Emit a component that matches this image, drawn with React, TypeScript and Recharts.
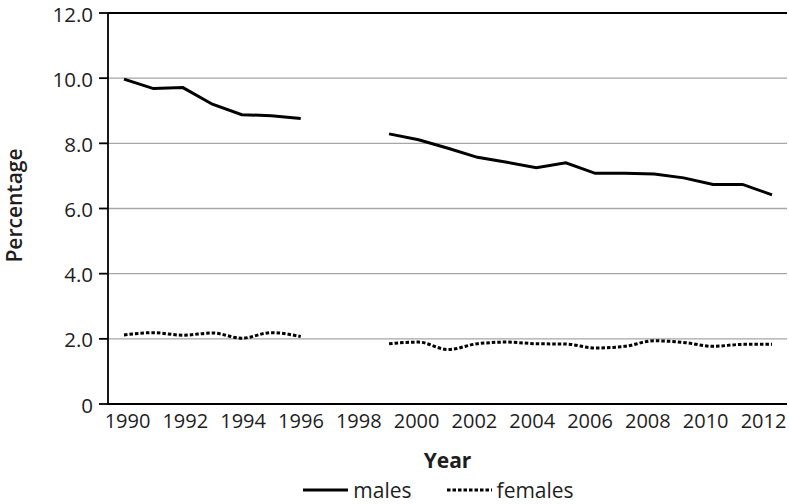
import React from 'react';
import {
  LineChart,
  Line,
  XAxis,
  YAxis,
  CartesianGrid,
  Legend,
  ReferenceLine,
} from 'recharts';

const years: string[] = [
  '1990', '1991', '1992', '1993', '1994', '1995', '1996', '1997', '1998', '1999', '2000',
  '2001', '2002', '2003', '2004', '2005', '2006', '2007', '2008', '2009', '2010', '2011', '2012',
];

const males: (number | null)[] = [
  9.97, 9.68, 9.71, 9.2, 8.88, 8.85, 8.76, null, null, 8.29, 8.11,
  7.85, 7.57, 7.42, 7.25, 7.4, 7.08, 7.08, 7.06, 6.94, 6.74, 6.74, 6.42,
];

const females: (number | null)[] = [
  2.12, 2.19, 2.11, 2.18, 2.02, 2.19, 2.07, null, null, 1.85, 1.9,
  1.67, 1.85, 1.9, 1.85, 1.84, 1.72, 1.77, 1.94, 1.89, 1.77, 1.83, 1.83,
];

const yTicks: number[] = [0, 2, 4, 6, 8, 10, 12];
const yTickLabels: string[] = ['0', '2.0', '4.0', '6.0', '8.0', '10.0', '12.0'];

const seriesNames: string[] = ['males', 'females'];
const seriesDash: string[] = ['', '3.5 2'];

const data = years.map((y, i) => ({ year: y, males: males[i], females: females[i] }));

const FONT = '"Open Sans", "Noto Sans", sans-serif';
const TEXT = '#1e1e1e';

// category labels in the reference sit on a slightly tighter pitch than the points
const XTick = (props: any) => {
  const { x, y, payload } = props;
  const i = years.indexOf(String(payload.value));
  const last = years.length - 1;
  const shift = 3.5 - 12 * (i / last);
  return (
    <text
      x={x + shift}
      y={y}
      dy={15}
      textAnchor="middle"
      fontFamily={FONT}
      fontSize={20}
      fill={TEXT}
    >
      {payload.value}
    </text>
  );
};

const YTick = (props: any) => {
  const { x, y, payload } = props;
  const label = yTickLabels[yTicks.indexOf(Number(payload.value))] ?? String(payload.value);
  return (
    <text
      x={x}
      y={y}
      dy={8.5}
      textAnchor="end"
      fontFamily={FONT}
      fontSize={20.5}
      fill={TEXT}
    >
      {label}
    </text>
  );
};

const renderLegend = () => (
  <div
    style={{
      display: 'flex',
      justifyContent: 'center',
      alignItems: 'center',
      height: 22,
      paddingTop: 5,
      paddingBottom: 3,
      paddingRight: 18,
      fontFamily: FONT,
      fontSize: 21,
      color: TEXT,
    }}
  >
    {seriesNames.map((name, i) => (
      <div key={name} style={{ display: 'flex', alignItems: 'center', marginRight: i === 0 ? 35 : 0 }}>
        <svg width={45} height={6} style={{ marginRight: 5 }}>
          <line
            x1={0}
            y1={3}
            x2={45}
            y2={3}
            stroke="#000"
            strokeWidth={3}
            strokeDasharray={seriesDash[i] || undefined}
          />
        </svg>
        <span style={{ lineHeight: '22px' }}>{name}</span>
      </div>
    ))}
  </div>
);

export default function App() {
  return (
    <div style={{ position: 'absolute', left: 0, top: 0, background: '#fff' }}>
      <LineChart
        width={789}
        height={504}
        data={data}
        margin={{ top: 13, right: 2, bottom: 0, left: 0 }}
      >
        <CartesianGrid vertical={false} stroke="#a6a6a6" strokeWidth={1.3} />
        <XAxis
          dataKey="year"
          interval={1}
          padding={{ left: 16, right: 15 }}
          height={70}
          tickSize={0}
          tickMargin={9}
          tickLine={false}
          axisLine={{ stroke: '#000', strokeWidth: 1.8 }}
          tick={<XTick />}
          label={{
            value: 'Year',
            position: 'insideBottom',
            offset: 6,
            style: { fontFamily: FONT, fontSize: 21, fontWeight: 700, fill: TEXT },
          }}
        />
        <YAxis
          domain={[0, 12]}
          ticks={yTicks}
          width={108}
          interval={0}
          tickSize={9}
          tickMargin={6}
          tickLine={{ stroke: '#000', strokeWidth: 1.8 }}
          axisLine={{ stroke: '#000', strokeWidth: 1.8 }}
          tick={<YTick />}
          label={{
            value: 'Percentage',
            angle: -90,
            position: 'center',
            dx: -39,
            dy: -3,
            style: { fontFamily: FONT, fontSize: 21, fontWeight: 600, fill: TEXT, textAnchor: 'middle' },
          }}
        />
        <YAxis
          yAxisId="right"
          orientation="right"
          domain={[0, 12]}
          width={0}
          tick={false}
          tickLine={false}
          axisLine={{ stroke: '#000', strokeWidth: 1.8 }}
        />
        <ReferenceLine y={12} stroke="#000" strokeWidth={1.8} />
        <Legend verticalAlign="bottom" content={renderLegend} wrapperStyle={{ left: 108, width: 679 }} />
        <Line
          type="linear"
          dataKey="males"
          name="males"
          stroke="#000"
          strokeWidth={3}
          dot={false}
          activeDot={false}
          connectNulls={false}
          isAnimationActive={false}
        />
        <Line
          type="monotone"
          dataKey="females"
          name="females"
          stroke="#000"
          strokeWidth={3}
          strokeDasharray="3.5 2"
          dot={false}
          activeDot={false}
          connectNulls={false}
          isAnimationActive={false}
        />
      </LineChart>
    </div>
  );
}
